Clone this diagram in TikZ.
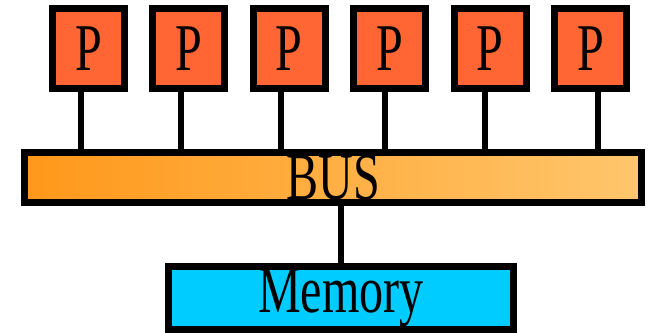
\documentclass[tikz,border=0pt]{standalone}
\usepackage{graphicx}
\usepackage{fontspec}
\setmainfont{Liberation Serif}
\usetikzlibrary{positioning}
\definecolor{procred}{RGB}{255,102,51}
\definecolor{busdark}{RGB}{255,152,26}
\definecolor{buslight}{RGB}{255,198,108}
\definecolor{memblue}{RGB}{0,204,255}
\newcommand{\narrowtext}[1]{\scalebox{0.72}[1]{#1}}
\tikzset{
    node distance=0.568cm, % gap between processor boxes
    every node/.style={outer sep=0pt, font=\fontsize{38}{40}\selectfont},
    proc/.style={draw, line width=0.14cm, fill=procred, minimum width=1.44cm, minimum height=1.6cm, inner sep=0pt},
    bus/.style={draw, line width=0.14cm, left color=busdark, right color=buslight, minimum width=12.34cm, minimum height=1cm, inner sep=0pt},
    mem/.style={draw, line width=0.14cm, fill=memblue, minimum width=6.9cm, minimum height=1.26cm, inner sep=0pt},
    wire/.style={line width=0.12cm},
}

\begin{document}
\begin{tikzpicture}[x=0.02cm, y=-0.02cm]
    \useasboundingbox (0,0) rectangle (652,333);

    \node[proc] (p1) at (88.5,48.5) {\narrowtext{P}};
    \node[proc] (p2) [right=of p1] {\narrowtext{P}};
    \node[proc] (p3) [right=of p2] {\narrowtext{P}};
    \node[proc] (p4) [right=of p3] {\narrowtext{P}};
    \node[proc] (p5) [right=of p4] {\narrowtext{P}};
    \node[proc] (p6) [right=of p5] {\narrowtext{P}};

    \node[bus] (bus) at (333,177.5) {\narrowtext{BUS}};
    \node[mem] (memory) at (341,298) {\narrowtext{Memory}};

    % processors hang on the bus, memory below it
    \foreach \p/\dx in {p1/-7.5, p2/-8, p3/-8, p4/-4.5, p5/-5, p6/7.5}
        \draw[wire] ([xshift=\dx*0.02cm]\p.south) -- ([xshift=\dx*0.02cm]\p.south |- bus.north);
    \draw[wire] (memory.north) -- (memory.north |- bus.south);
\end{tikzpicture}
\end{document}
